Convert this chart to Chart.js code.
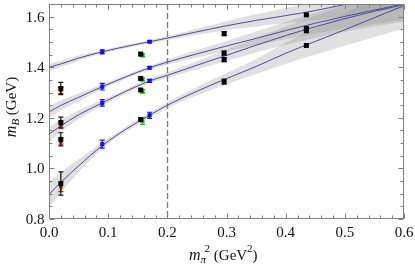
<!DOCTYPE html>
<html>
<head>
<meta charset="utf-8">
<script src="https://cdn.jsdelivr.net/npm/chart.js@4.4.1/dist/chart.umd.min.js"></script>
<style>
  html, body { margin: 0; padding: 0; background: #fff; }
</style>
</head>
<body>
<canvas id="massChart" width="415" height="271"></canvas>
<script>
// fit curves at these m_pi^2 values
const fitX = [0, 0.02, 0.05, 0.09, 0.13, 0.17, 0.2, 0.25, 0.3, 0.35, 0.4, 0.45, 0.5, 0.55, 0.6];
const fit1 = [1.400, 1.413, 1.436, 1.461, 1.482, 1.501, 1.515, 1.540, 1.564, 1.585, 1.604, 1.624, 1.648, 1.670, 1.690];
const fit2 = [1.223, 1.249, 1.281, 1.323, 1.362, 1.398, 1.420, 1.453, 1.484, 1.514, 1.545, 1.574, 1.601, 1.626, 1.650];
const fit3 = [1.135, 1.168, 1.212, 1.259, 1.305, 1.346, 1.368, 1.408, 1.447, 1.487, 1.525, 1.560, 1.592, 1.621, 1.648];
const fit4 = [0.897, 0.945, 1.010, 1.090, 1.155, 1.210, 1.250, 1.305, 1.355, 1.403, 1.455, 1.502, 1.548, 1.596, 1.643];
// half widths of the grey error bands
const band1 = [0.015, 0.013, 0.010, 0.007, 0.006, 0.006, 0.008, 0.012, 0.018, 0.024, 0.030, 0.037, 0.044, 0.050, 0.057];
const band2 = [0.022, 0.020, 0.015, 0.010, 0.008, 0.008, 0.010, 0.015, 0.020, 0.027, 0.034, 0.041, 0.048, 0.055, 0.062];
const band3 = [0.028, 0.024, 0.017, 0.011, 0.009, 0.009, 0.011, 0.016, 0.022, 0.029, 0.036, 0.044, 0.052, 0.060, 0.068];
const band4 = [0.050, 0.040, 0.025, 0.012, 0.010, 0.010, 0.012, 0.016, 0.022, 0.030, 0.042, 0.052, 0.063, 0.076, 0.090];

// lattice points
const blackX = [0.02, 0.02, 0.02, 0.02, 0.155, 0.155, 0.155, 0.155, 0.296, 0.296, 0.296, 0.296, 0.435, 0.435, 0.435, 0.435];
const blackY = [1.316, 1.181, 1.115, 0.940, 1.452, 1.356, 1.310, 1.193, 1.533, 1.456, 1.430, 1.343, 1.607, 1.553, 1.544, 1.486];
const blackErr = [0.024, 0.022, 0.026, 0.046, 0.006, 0.006, 0.006, 0.006, 0.008, 0.008, 0.008, 0.010, 0.004, 0.005, 0.005, 0.004];

const blueX = [0.09, 0.09, 0.09, 0.09, 0.17, 0.17, 0.17, 0.17];
const blueY = [1.461, 1.323, 1.259, 1.096, 1.501, 1.398, 1.346, 1.210];
const blueErr = [0.008, 0.013, 0.013, 0.016, 0.004, 0.005, 0.006, 0.012];

const redX = [0.02, 0.02, 0.02, 0.02];
const redY = [1.308, 1.175, 1.108, 0.928];
const redErr = [0.012, 0.012, 0.012, 0.020];

const greenX = [0.158, 0.158, 0.158, 0.158];
const greenY = [1.447, 1.351, 1.305, 1.187];
const greenErr = [0.005, 0.005, 0.007, 0.013];

const xTickVals = [0, 0.1, 0.2, 0.3, 0.4, 0.5, 0.6];
const xTickLabels = ['0.0', '0.1', '0.2', '0.3', '0.4', '0.5', '0.6'];
const yTickVals = [0.8, 1.0, 1.2, 1.4, 1.6];
const yTickLabels = ['0.8', '1.0', '1.2', '1.4', '1.6'];
const cutX = 0.2;

const SERIF = '"Liberation Serif", "DejaVu Serif", serif';
const LINE = '#4b4b9e';
const BAND = 'rgba(140, 140, 140, 0.27)';

const pts = (xs, ys) => xs.map((x, i) => ({ x: x, y: ys[i] }));

const datasets = [];
[[fit1, band1], [fit2, band2], [fit3, band3], [fit4, band4]].forEach(([fit, band]) => {
  datasets.push({
    data: pts(fitX, fit.map((v, i) => v - band[i])),
    showLine: true, borderWidth: 0, pointRadius: 0, fill: false,
    cubicInterpolationMode: 'monotone', order: 10
  });
  datasets.push({
    data: pts(fitX, fit.map((v, i) => v + band[i])),
    showLine: true, borderWidth: 0, pointRadius: 0, fill: '-1',
    backgroundColor: BAND, cubicInterpolationMode: 'monotone', order: 10
  });
});
[fit1, fit2, fit3, fit4].forEach(fit => {
  datasets.push({
    data: pts(fitX, fit), showLine: true, borderColor: LINE, borderWidth: 1,
    pointRadius: 0, fill: false, cubicInterpolationMode: 'monotone', order: 5
  });
});
datasets.push({ data: pts(redX, redY), err: redErr, errColor: '#e01010', pointStyle: 'rect',
  pointRadius: 2.6, backgroundColor: '#e01010', borderWidth: 0, order: 4 });
datasets.push({ data: pts(greenX, greenY), err: greenErr, errColor: '#10c010', pointStyle: 'rect',
  pointRadius: 2.8, backgroundColor: '#10c010', borderWidth: 0, order: 3 });
datasets.push({ data: pts(blackX, blackY), err: blackErr, errColor: '#111', pointStyle: 'rect',
  pointRadius: 3.5, backgroundColor: '#000', borderWidth: 0, order: 2 });
datasets.push({ data: pts(blueX, blueY), err: blueErr, errColor: '#1010e8', pointStyle: 'rect',
  pointRadius: 2.9, backgroundColor: '#1010f0', borderWidth: 0, order: 1 });

// frame, inward ticks, labels, error bars, dashed line
const framePlugin = {
  id: 'framePlugin',
  beforeDatasetsDraw(chart) {
    const { ctx, chartArea: a, scales: { x } } = chart;
    const px = Math.round(x.getPixelForValue(cutX)) + 0.5;
    ctx.save();
    ctx.strokeStyle = '#7a7a7a';
    ctx.lineWidth = 1.3;
    ctx.setLineDash([6, 3]);
    ctx.beginPath();
    ctx.moveTo(px, a.top);
    ctx.lineTo(px, a.bottom);
    ctx.stroke();
    ctx.restore();
  },
  beforeDatasetDraw(chart, args) {
    const ds = chart.data.datasets[args.index];
    if (!ds.err) return;
    const { ctx, scales: { x, y } } = chart;
    ctx.save();
    ctx.strokeStyle = ds.errColor;
    ctx.lineWidth = 1.2;
    ds.data.forEach((p, i) => {
      const px = x.getPixelForValue(p.x);
      const y1 = y.getPixelForValue(p.y - ds.err[i]);
      const y2 = y.getPixelForValue(p.y + ds.err[i]);
      ctx.beginPath();
      ctx.moveTo(px, y1); ctx.lineTo(px, y2);
      ctx.moveTo(px - 2.5, y1); ctx.lineTo(px + 2.5, y1);
      ctx.moveTo(px - 2.5, y2); ctx.lineTo(px + 2.5, y2);
      ctx.stroke();
    });
    ctx.restore();
  },
  afterDatasetsDraw(chart) {
    const { ctx, chartArea: a, scales: { x, y } } = chart;
    ctx.save();
    ctx.strokeStyle = '#808080';
    ctx.lineWidth = 1;
    const L = Math.round(a.left) + 0.5, R = Math.round(a.right) - 0.5;
    const T = Math.round(a.top) + 0.5, B = Math.round(a.bottom) - 0.5;
    ctx.strokeRect(L, T, R - L, B - T);

    ctx.beginPath();
    for (let k = 0; k <= 30; k++) {
      const px = Math.round(x.getPixelForValue(k * 0.02)) + 0.5;
      const len = k % 5 === 0 ? 5 : 3;
      ctx.moveTo(px, B); ctx.lineTo(px, B - len);
      ctx.moveTo(px, T); ctx.lineTo(px, T + len);
    }
    for (let k = 0; k <= 17; k++) {
      const py = Math.round(y.getPixelForValue(0.8 + k * 0.05)) + 0.5;
      const len = k % 4 === 0 ? 5 : 3;
      ctx.moveTo(L, py); ctx.lineTo(L + len, py);
      ctx.moveTo(R, py); ctx.lineTo(R - len, py);
    }
    ctx.stroke();

    ctx.fillStyle = '#111';
    ctx.font = '15px ' + SERIF;
    ctx.textBaseline = 'alphabetic';
    ctx.textAlign = 'center';
    xTickVals.forEach((v, i) => ctx.fillText(xTickLabels[i], x.getPixelForValue(v), 236.5));
    ctx.textAlign = 'right';
    yTickVals.forEach((v, i) => ctx.fillText(yTickLabels[i], 44.5, y.getPixelForValue(v) + 5));

    // x title: m_pi^2 (GeV^2)
    ctx.textAlign = 'left';
    let cx = 189;
    const base = 260;
    ctx.font = 'italic 16px ' + SERIF;
    ctx.fillText('m', cx, base);
    cx += ctx.measureText('m').width;
    ctx.font = 'italic 11px ' + SERIF;
    ctx.fillText('\u03c0', cx, base + 3);
    const wp = ctx.measureText('\u03c0').width;
    ctx.font = '11px ' + SERIF;
    ctx.fillText('2', cx + 4, base - 8);
    cx += Math.max(wp, 4 + ctx.measureText('2').width);
    ctx.font = '15px ' + SERIF;
    ctx.fillText(' (GeV', cx, base);
    cx += ctx.measureText(' (GeV').width;
    ctx.font = '11px ' + SERIF;
    ctx.fillText('2', cx, base - 8);
    cx += ctx.measureText('2').width;
    ctx.font = '15px ' + SERIF;
    ctx.fillText(')', cx, base);

    // y title: m_B (GeV)
    ctx.translate(16, 107);
    ctx.rotate(-Math.PI / 2);
    ctx.font = 'italic 16px ' + SERIF;
    const wm = ctx.measureText('m').width;
    ctx.font = 'italic 11px ' + SERIF;
    const wb = ctx.measureText('B').width;
    ctx.font = '15px ' + SERIF;
    const wg = ctx.measureText(' (GeV)').width;
    let sx = -(wm + wb + wg) / 2;
    ctx.font = 'italic 16px ' + SERIF;
    ctx.fillText('m', sx, 0);
    sx += wm;
    ctx.font = 'italic 11px ' + SERIF;
    ctx.fillText('B', sx, 3);
    sx += wb;
    ctx.font = '15px ' + SERIF;
    ctx.fillText(' (GeV)', sx, 0);
    ctx.restore();
  }
};

new Chart(document.getElementById('massChart'), {
  type: 'scatter',
  data: { datasets: datasets },
  options: {
    responsive: false,
    animation: false,
    layout: { padding: { left: 49, right: 11, top: 0, bottom: 52 } },
    plugins: { legend: { display: false }, tooltip: { enabled: false } },
    scales: {
      x: { type: 'linear', min: 0, max: 0.6, display: false },
      y: { type: 'linear', min: 0.8, max: 1.65, display: false }
    }
  },
  plugins: [framePlugin]
});
</script>
</body>
</html>
